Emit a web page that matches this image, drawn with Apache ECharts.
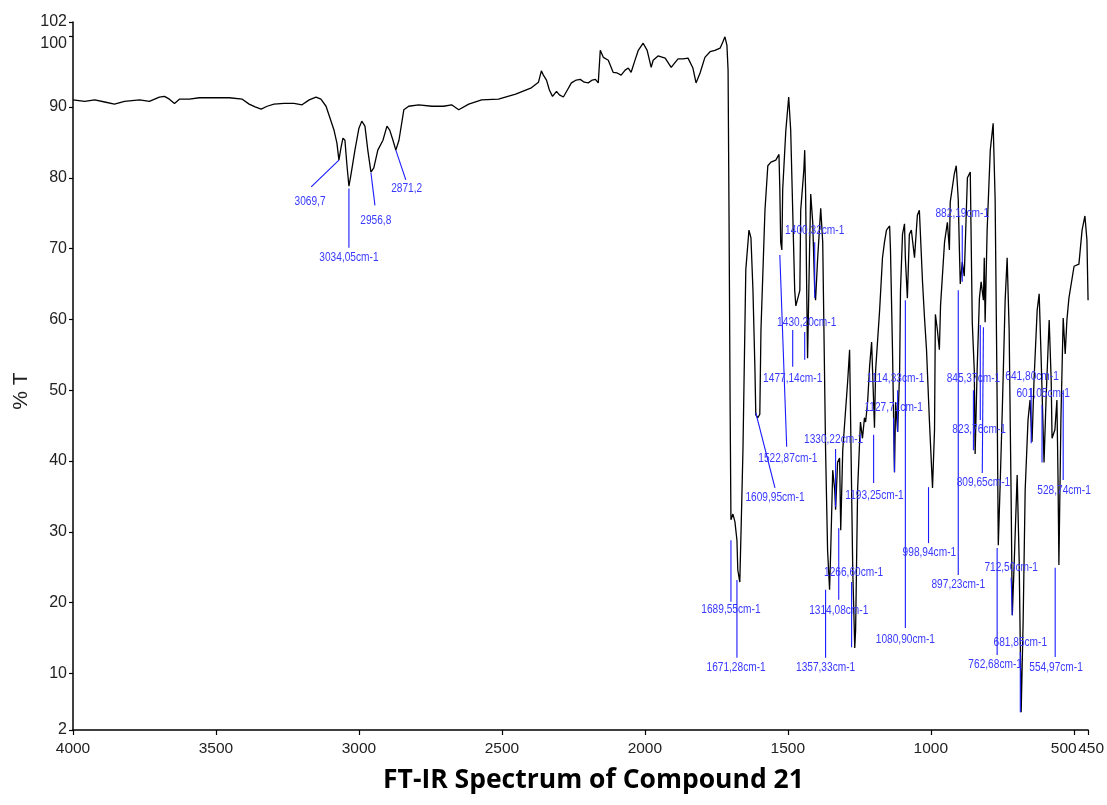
<!DOCTYPE html>
<html><head><meta charset="utf-8">
<script src="https://cdn.jsdelivr.net/npm/echarts@6/dist/echarts.min.js"></script>
<style>html,body{margin:0;padding:0;background:#fff}#c{width:1107px;height:805px}</style>
</head><body><div id="c"></div>
<script>
// Spectrum: wavenumber (cm-1) and % transmittance
const wavenumbers = [4000,3959,3924,3889,3855,3820,3767,3733,3698,3680,3663,3645,3628,3593,3558,3506,3453,3408,3384,3363,3342,3321,3297,3262,3227,3199,3174,3150,3133,3115,3101,3087,3077,3070,3063,3056,3049,3042,3035,3028,3014,3000,2990,2979,2969,2958,2948,2934,2916,2902,2892,2881,2871,2860,2843,2826,2791,2745,2704,2676,2651,2616,2571,2512,2452,2397,2372,2362,2355,2344,2334,2323,2309,2299,2285,2271,2257,2240,2226,2212,2198,2184,2173,2163,2156,2145,2128,2111,2097,2083,2069,2058,2048,2037,2023,2006,1992,1978,1971,1954,1929,1908,1894,1884,1866,1849,1832,1821,1814,1807,1790,1772,1755,1737,1727,1720,1713,1709,1706,1702,1699,1692,1685,1678,1675,1668,1661,1657,1647,1636,1629,1622,1615,1612,1605,1598,1594,1580,1570,1559,1542,1531,1528,1525,1521,1518,1507,1497,1490,1483,1476,1472,1465,1458,1455,1444,1441,1438,1434,1431,1424,1420,1413,1406,1403,1396,1385,1378,1368,1361,1354,1350,1343,1336,1333,1326,1319,1315,1308,1301,1298,1291,1284,1280,1273,1266,1263,1256,1249,1246,1239,1232,1228,1221,1214,1207,1200,1197,1193,1179,1169,1162,1155,1144,1141,1134,1127,1123,1116,1109,1106,1099,1092,1089,1082,1075,1068,1057,1047,1040,1029,1022,1015,1005,994,987,984,977,970,966,952,942,935,932,918,911,904,900,897,890,883,872,862,855,848,845,838,830,824,816,813,810,803,792,782,775,768,764,757,750,740,733,726,719,715,708,698,691,684,677,670,660,653,646,639,628,621,614,604,597,586,579,576,566,559,555,552,545,537,530,524,517,499,482,471,461,454,450];
const transmittance = [91.0,90.8,91.0,90.7,90.4,90.8,91.0,90.8,91.4,91.5,91.1,90.5,91.1,91.1,91.3,91.3,91.3,91.1,90.4,90.0,89.7,90.1,90.4,90.5,90.5,90.3,91.0,91.4,91.1,90.1,88.4,86.7,84.9,82.5,84.2,85.6,85.3,81.8,78.8,80.4,83.9,87.0,88.0,87.3,83.9,80.8,81.4,83.9,85.3,87.3,86.7,85.3,83.9,85.3,89.6,90.1,90.3,90.1,90.1,90.3,89.6,90.4,91.0,91.1,91.8,92.7,93.5,95.1,94.5,93.8,92.4,91.5,92.2,91.7,91.4,92.4,93.4,93.8,93.9,93.5,93.4,93.8,93.9,93.4,98.0,97.0,96.6,94.9,94.8,94.5,95.2,95.5,94.9,96.3,98.0,99.0,98.0,95.6,96.6,97.2,96.9,95.6,96.3,96.8,96.8,96.9,95.5,93.4,94.1,94.8,97.0,97.8,98.0,98.3,99.2,99.9,98.7,95.2,76.9,48.6,31.7,32.5,31.4,28.8,24.6,22.9,34.5,41.5,67.0,72.6,71.5,64.1,52.8,46.5,46.1,46.6,58.5,75.4,81.7,82.2,82.5,83.3,78.3,70.9,69.8,78.3,86.7,91.4,86.7,75.4,64.1,61.9,63.0,64.1,75.4,81.1,83.9,78.3,64.1,54.5,69.8,77.7,73.7,64.1,62.7,68.4,75.7,70.9,41.5,27.4,21.8,27.4,38.7,35.9,33.1,39.8,40.4,30.2,41.5,45.5,45.5,51.1,55.7,44.4,24.6,13.6,16.1,35.9,42.7,45.5,43.2,46.1,45.5,48.3,53.4,56.8,48.3,44.7,52.8,61.3,68.7,70.9,72.6,73.2,69.8,55.7,38.4,48.3,44.1,52.8,64.1,72.0,73.5,68.7,63.0,72.0,72.6,68.7,74.7,75.4,65.3,60.2,55.7,45.8,36.2,44.4,60.7,58.5,55.7,61.9,70.9,73.7,69.8,76.6,80.5,81.7,76.9,69.8,65.0,68.1,66.1,80.0,80.8,59.6,52.8,41.0,52.8,63.0,65.3,62.7,68.7,59.6,72.6,83.9,87.7,76.9,48.6,28.1,37.3,47.2,62.7,68.7,58.5,34.5,18.2,26.0,38.0,26.0,4.5,17.5,35.9,45.8,48.6,42.7,51.4,61.3,63.6,54.3,39.8,48.6,59.9,51.4,43.2,44.4,48.6,37.3,25.3,45.8,60.2,55.1,59.9,63.0,67.5,67.8,72.6,74.6,71.2,62.7];

// Axis ticks
const yTickValues = [2,10,20,30,40,50,60,70,80,90,100,102];
const xTickValues = [4000,3500,3000,2500,2000,1500,1000,500,450];

// Peak annotations: text, tip of leader line, end of leader line, label anchor (cm-1, %T)
const peakLabels = ["3069,7","3034,05cm-1","2956,8","2871,2","1689,55cm-1","1671,28cm-1","1609,95cm-1","1522,87cm-1","1477,14cm-1","1430,20cm-1","1400,32cm-1","1330,22cm-1","1314,08cm-1","1357,33cm-1","1266,60cm-1","1193,25cm-1","1127,71cm-1","1114,33cm-1","1080,90cm-1","998,94cm-1","897,23cm-1","882,19cm-1","845,37cm-1","823,76cm-1","809,65cm-1","762,68cm-1","712,50cm-1","681,85cm-1","554,97cm-1","528,74cm-1","601,05cm-1","641,80cm-1"];
const peakTipWn = [3070,3035,2958,2871,1699,1678,1612,1528,1483,1441,1406,1333,1322,1368,1277,1200,1127,1116,1089,1008,904,890,851,827,816,768,715,687,565,537,611,649];
const peakTipT  = [82.5,78.5,80.7,83.9,28.8,23.2,46.8,69.1,58.5,54.3,63.0,33.5,30.5,21.8,13.7,43.7,38.4,44.1,62.7,36.3,64.1,65.3,41.5,59.2,58.9,27.7,18.2,4.5,24.9,50.0,39.8,42.5];
const peakEndWn = [3167,3035,2944,2836,1699,1678,1545,1504,1483,1441,1406,1333,1322,1368,1277,1200,1130,1116,1089,1008,904,890,851,827,820,768,719,687,565,537,611,649];
const peakEndT  = [78.7,70.1,76.1,79.7,20.1,12.2,36.2,42.0,53.3,58.2,70.9,41.7,20.4,12.2,22.9,36.9,46.1,50.0,16.4,28.4,23.9,73.3,50.0,45.8,38.3,12.6,23.5,13.0,12.3,37.3,47.9,50.3];
const peakLabWn = [3171,3035,2941,2833,1699,1681,1545,1500,1483,1434,1406,1340,1322,1368,1270,1197,1130,1123,1089,1005,904,890,851,831,816,775,719,687,562,534,607,646];
const peakLabT  = [76.6,68.7,74.0,78.5,19.0,10.9,34.8,40.4,51.7,59.6,72.5,43.1,18.9,10.8,24.3,35.2,47.6,51.6,14.8,27.1,22.5,75.0,51.7,44.4,36.9,11.2,24.9,14.4,10.9,35.9,49.6,51.9];

const SANS = '"Liberation Sans",Arial,sans-serif';

const spectrum = wavenumbers.map((w, i) => [w, transmittance[i]]);
const annoData = peakLabels.map((t, i) => [peakTipWn[i], peakTipT[i], peakEndWn[i], peakEndT[i], peakLabWn[i], peakLabT[i]]);

const chart = echarts.init(document.getElementById('c'), null, {renderer: 'canvas'});
chart.setOption({
  animation: false,
  backgroundColor: '#ffffff',
  title: {
    text: 'FT-IR Spectrum of Compound 21',
    left: 378, top: 762,
    textStyle: {fontFamily: '"Open Sans",sans-serif', fontWeight: 'bold', fontSize: 26.5, color: '#000'}
  },
  graphic: [{
    type: 'text', x: 21, y: 391, rotation: Math.PI / 2,
    style: {text: '% T', font: '21px ' + SANS, fill: '#222', align: 'center', verticalAlign: 'middle'}
  }],
  grid: {left: 73, right: 16, top: 22, bottom: 75, containLabel: false},
  xAxis: {
    type: 'value', inverse: true, min: 450, max: 4000,
    splitLine: {show: false},
    axisLine: {lineStyle: {color: '#000', width: 1.5}},
    axisTick: {show: true, length: 5, lineStyle: {color: '#000', width: 1.2}, customValues: xTickValues},
    axisLabel: {
      customValues: xTickValues, margin: 11, color: '#222', fontFamily: SANS, fontSize: 15.5,
      showMinLabel: true, showMaxLabel: true, hideOverlap: false,
      formatter: v => v === 500 ? '{s|500}' : (v === 450 ? '{e|450}' : String(v)),
      rich: {
        s: {padding: [0, 20, 0, 0], fontFamily: SANS, fontSize: 15.5, color: '#222'},
        e: {padding: [0, 0, 0, 6], fontFamily: SANS, fontSize: 15.5, color: '#222'}
      }
    }
  },
  yAxis: {
    type: 'value', min: 2, max: 102,
    splitLine: {show: false},
    axisLine: {show: true, lineStyle: {color: '#000', width: 1.5}},
    axisTick: {show: true, length: 4, lineStyle: {color: '#000', width: 1.2}, customValues: yTickValues},
    axisLabel: {
      customValues: yTickValues, margin: 6, color: '#222', fontFamily: SANS, fontSize: 16,
      showMinLabel: true, showMaxLabel: true, hideOverlap: false,
      formatter: v => v === 100 ? '{d|100}' : String(v),
      rich: {d: {padding: [15, 0, 0, 0], fontFamily: SANS, fontSize: 16, color: '#222'}}
    }
  },
  series: [
    {
      type: 'line', data: spectrum, showSymbol: false, symbol: 'none', z: 3,
      lineStyle: {color: '#000', width: 1.3}, silent: true
    },
    {
      type: 'custom', data: annoData, z: 4, silent: true,
      encode: {x: [0, 2, 4], y: [1, 3, 5]},
      renderItem: function (params, api) {
        const tip = api.coord([api.value(0), api.value(1)]);
        const end = api.coord([api.value(2), api.value(3)]);
        const lab = api.coord([api.value(4), api.value(5)]);
        return {
          type: 'group',
          children: [
            {type: 'line', shape: {x1: tip[0], y1: tip[1], x2: end[0], y2: end[1]},
             style: {stroke: '#1a1aff', lineWidth: 1.1}},
            {type: 'text', x: lab[0], y: lab[1], scaleX: 0.78,
             style: {text: peakLabels[params.dataIndex], fill: '#3838ff',
                     font: '13px ' + SANS, align: 'center', verticalAlign: 'middle'}}
          ]
        };
      }
    }
  ]
});
</script></body></html>
